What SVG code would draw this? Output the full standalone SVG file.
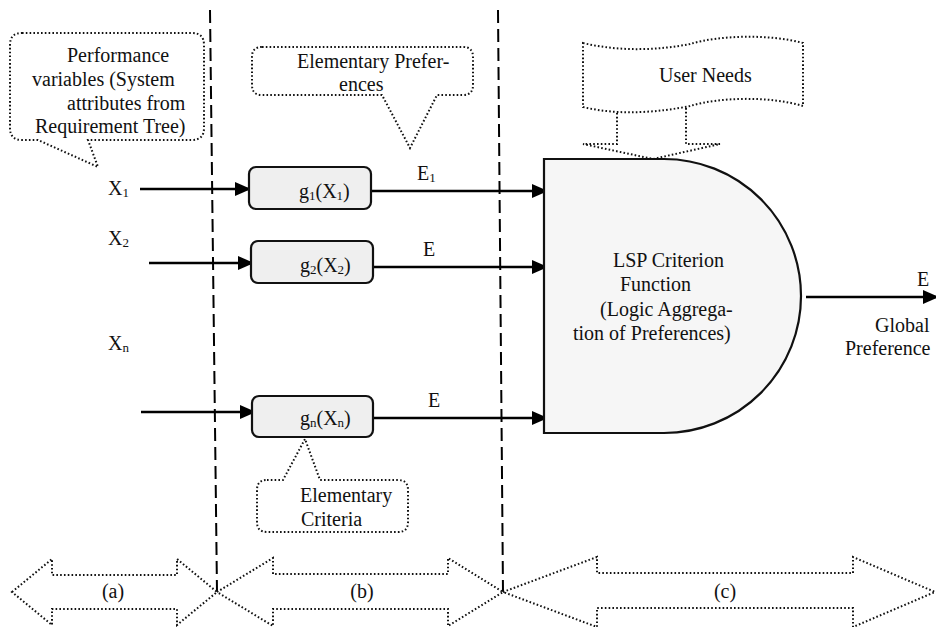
<svg xmlns="http://www.w3.org/2000/svg" width="936" height="627" viewBox="0 0 936 627">
<defs>
<marker id="ah" markerUnits="userSpaceOnUse" markerWidth="16" markerHeight="14" refX="13" refY="7" orient="auto">
<path d="M0,0 L16,7 L0,14 Z" fill="#000"/>
</marker>
</defs>
<rect width="936" height="627" fill="#fff"/>

<g id="dividers" stroke="#000" stroke-width="2" stroke-dasharray="13 6" fill="none">
<line x1="210" y1="10" x2="217" y2="592"/>
<line x1="498" y1="10" x2="503" y2="592"/>
</g>

<g id="connectors" stroke="#000" stroke-width="2.5" fill="none">
<line x1="140" y1="189" x2="248" y2="189" marker-end="url(#ah)"/>
<line x1="149" y1="263" x2="251" y2="263" marker-end="url(#ah)"/>
<line x1="141" y1="412" x2="253" y2="412" marker-end="url(#ah)"/>
<line x1="371" y1="191" x2="545" y2="191" marker-end="url(#ah)"/>
<line x1="373" y1="267" x2="545" y2="267" marker-end="url(#ah)"/>
<line x1="373" y1="418" x2="545" y2="418" marker-end="url(#ah)"/>
<line x1="806" y1="297" x2="936" y2="297" marker-end="url(#ah)"/>
</g>

<g id="dotted-shapes" fill="#fff" stroke="#111" stroke-width="2" stroke-dasharray="1.6 2.2">
<path d="M22,33 H192 Q204,33 204,45 V128 Q204,140 192,140 H88 L98,167 L38,140 H22 Q10,140 10,128 V45 Q10,33 22,33 Z"/>
<path d="M262,47 H463 Q473,47 473,57 V85 Q473,95 463,95 H437 L410,148 L382,95 H262 Q252,95 252,85 V57 Q252,47 262,47 Z"/>
<path d="M583,43 C620,52 660,50 690,44 C720,35 770,34 803,43 V106 C770,96 720,97 690,106 C660,112 620,116 583,107 Z"/>
<path fill="none" d="M617,113 V144 H583 L653,159 L720,144 H686 V108"/>
<path d="M267,480 H283 L305,439 L320,480 H398 Q408,480 408,490 V522 Q408,532 398,532 H267 Q257,532 257,522 V490 Q257,480 267,480 Z"/>
<path d="M12,592 L52,559 V575 H177 V559 L217,592 L177,625 V609 H52 V625 Z"/>
<path d="M217,592 L273,558 V574 H448 V558 L503,592 L448,626 V609 H273 V626 Z"/>
<path d="M503,592 L597,557 V573 H853 V557 L935,592 L853,627 V608 H597 V627 Z"/>
</g>

<g id="boxes" fill="#efefef" stroke="#111" stroke-width="2.2">
<rect id="g1" x="249" y="167" width="122" height="42" rx="7"/>
<rect id="g2" x="251" y="241" width="122" height="42" rx="7"/>
<rect id="gn" x="252" y="396" width="121" height="41" rx="7"/>
</g>

<path id="lsp" d="M544,159 H664 A137,137 0 0 1 664,433 H544 Z" fill="#f6f6f6" stroke="#111" stroke-width="2.2"/>

<g id="texts" fill="#111">
<text x="67" y="62" style="font-family:'Liberation Serif',serif;font-size:20px">Performance</text>
<text x="32" y="86" style="font-family:'Liberation Serif',serif;font-size:20px">variables (System</text>
<text x="67" y="110" style="font-family:'Liberation Serif',serif;font-size:20px">attributes from</text>
<text x="35" y="133" style="font-family:'Liberation Serif',serif;font-size:20px">Requirement Tree)</text>
<text x="297" y="68" style="font-family:'Liberation Serif',serif;font-size:20px">Elementary Prefer-</text>
<text x="339" y="91" style="font-family:'Liberation Serif',serif;font-size:20px">ences</text>
<text x="659" y="82" style="font-family:'Liberation Serif',serif;font-size:20px">User Needs</text>
<text x="108" y="195" style="font-family:'Liberation Serif',serif;font-size:20px">X<tspan style="font-size:13px" dy="2">1</tspan></text>
<text x="108" y="245" style="font-family:'Liberation Serif',serif;font-size:20px">X<tspan style="font-size:13px" dy="2">2</tspan></text>
<text x="108" y="350" style="font-family:'Liberation Serif',serif;font-size:20px">X<tspan style="font-size:13px" dy="2">n</tspan></text>
<text x="417" y="180" style="font-family:'Liberation Serif',serif;font-size:20px">E<tspan style="font-size:13px" dy="2">1</tspan></text>
<text x="423" y="256" style="font-family:'Liberation Serif',serif;font-size:20px">E</text>
<text x="428" y="407" style="font-family:'Liberation Serif',serif;font-size:20px">E</text>
<text x="299" y="198" style="font-family:'Liberation Serif',serif;font-size:20px">g<tspan style="font-size:13px" dy="2">1</tspan><tspan dy="-2">(X</tspan><tspan style="font-size:13px" dy="2">1</tspan><tspan dy="-2">)</tspan></text>
<text x="300" y="272" style="font-family:'Liberation Serif',serif;font-size:20px">g<tspan style="font-size:13px" dy="2">2</tspan><tspan dy="-2">(X</tspan><tspan style="font-size:13px" dy="2">2</tspan><tspan dy="-2">)</tspan></text>
<text x="300" y="425" style="font-family:'Liberation Serif',serif;font-size:20px">g<tspan style="font-size:13px" dy="2">n</tspan><tspan dy="-2">(X</tspan><tspan style="font-size:13px" dy="2">n</tspan><tspan dy="-2">)</tspan></text>
<text x="300" y="502" style="font-family:'Liberation Serif',serif;font-size:20px">Elementary</text>
<text x="301" y="526" style="font-family:'Liberation Serif',serif;font-size:20px">Criteria</text>
<text x="613" y="267" style="font-family:'Liberation Serif',serif;font-size:20px">LSP Criterion</text>
<text x="620" y="291" style="font-family:'Liberation Serif',serif;font-size:20px">Function</text>
<text x="600" y="316" style="font-family:'Liberation Serif',serif;font-size:20px">(Logic Aggrega-</text>
<text x="573" y="340" style="font-family:'Liberation Serif',serif;font-size:20px">tion of Preferences)</text>
<text x="917" y="286" style="font-family:'Liberation Serif',serif;font-size:20px">E</text>
<text x="875" y="332" style="font-family:'Liberation Serif',serif;font-size:20px">Global</text>
<text x="845" y="355" style="font-family:'Liberation Serif',serif;font-size:20px">Preference</text>
<text x="113" y="598" text-anchor="middle" style="font-family:'Liberation Serif',serif;font-size:20px">(a)</text>
<text x="362" y="598" text-anchor="middle" style="font-family:'Liberation Serif',serif;font-size:20px">(b)</text>
<text x="725" y="598" text-anchor="middle" style="font-family:'Liberation Serif',serif;font-size:20px">(c)</text>
</g>
</svg>
